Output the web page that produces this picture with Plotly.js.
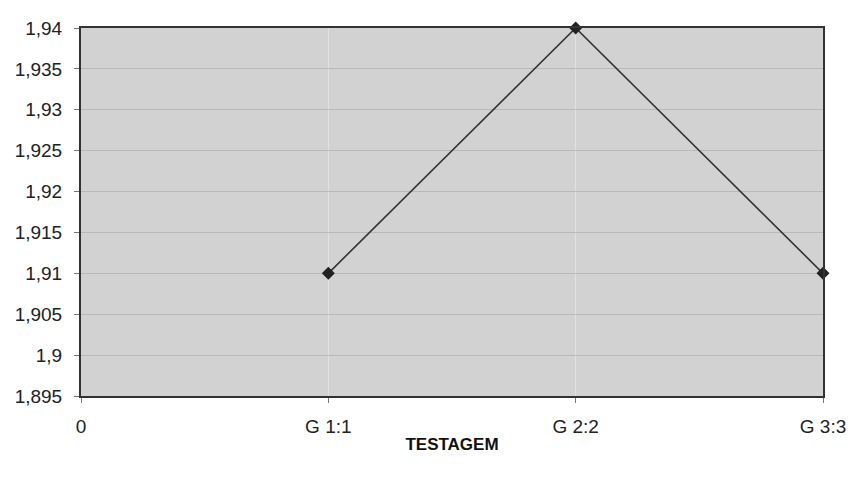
<!DOCTYPE html>
<html>
<head>
<meta charset="utf-8">
<script src="https://cdn.plot.ly/plotly-3.0.1.min.js"></script>
<style>html,body{margin:0;padding:0;background:#fff;}#chart{width:853px;height:478px;}</style>
</head>
<body>
<div id="chart"></div>
<script>
var categories = ["0", "G 1:1", "G 2:2", "G 3:3"];
var seriesX = ["G 1:1", "G 2:2", "G 3:3"];
var seriesY = [1.91, 1.94, 1.91];
var yTickVals = [1.895, 1.9, 1.905, 1.91, 1.915, 1.92, 1.925, 1.93, 1.935, 1.94];
var yTickText = ["1,895", "1,9", "1,905", "1,91", "1,915", "1,92", "1,925", "1,93", "1,935", "1,94"];
var xTitle = "TESTAGEM";

var trace = {
  x: seriesX, y: seriesY, type: "scatter", mode: "lines+markers",
  line: {color: "#333333", width: 1.6},
  marker: {symbol: "diamond", size: 10, color: "#222222"},
  cliponaxis: false, showlegend: false
};
var layout = {
  width: 853, height: 478,
  margin: {l: 81, r: 30, t: 28, b: 82},
  paper_bgcolor: "#ffffff", plot_bgcolor: "#d2d2d2",
  font: {family: "Liberation Sans, Arial, sans-serif", color: "#222222", size: 19},
  xaxis: {
    type: "category", categoryorder: "array", categoryarray: categories,
    range: [0, 3], showgrid: true, gridcolor: "#e2e2e2", gridwidth: 1,
    showline: true, linecolor: "#333333", linewidth: 2, mirror: true,
    ticks: "outside", ticklen: 5, tickcolor: "#777777", ticklabelstandoff: 7,
    zeroline: false,
    title: {text: xTitle, font: {size: 17, weight: "bold", color: "#111111"}, standoff: 2}
  },
  yaxis: {
    range: [1.895, 1.94], tickmode: "array", tickvals: yTickVals, ticktext: yTickText,
    showgrid: true, gridcolor: "#b9b9b9", gridwidth: 1,
    showline: true, linecolor: "#333333", linewidth: 2, mirror: true,
    ticks: "outside", ticklen: 5, tickcolor: "#777777", ticklabelstandoff: 8,
    zeroline: false
  }
};
Plotly.newPlot("chart", [trace], layout, {displayModeBar: false, staticPlot: true});
</script>
</body>
</html>
